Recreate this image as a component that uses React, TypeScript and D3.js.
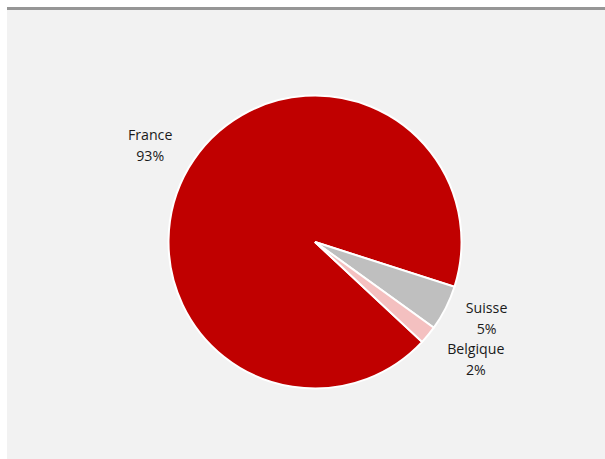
import React from "react";
import * as d3 from "d3";

const categories = ["France", "Suisse", "Belgique"];
const values = [93, 5, 2];
const labels = ["93%", "5%", "2%"];
const colors = ["#c00000", "#bfbfbf", "#f4c0c0"];

export default function App() {
  const W = 605, H = 459;
  const cx = 315, cy = 242, r = 146.5;
  const start = (133 * Math.PI) / 180;
  const pie = d3.pie<number>().sort(null).value((d) => d).startAngle(start).endAngle(start + 2 * Math.PI);
  const arcs = pie(values);
  const arc = d3.arc<d3.PieArcDatum<number>>().innerRadius(0).outerRadius(r);
  const labelArc = d3.arc<d3.PieArcDatum<number>>().innerRadius(190).outerRadius(190);
  const nudges = [[-1, -6], [2, -15], [14, -9]];
  return (
    <svg width={W} height={H} style={{ position: "absolute", left: 0, top: 0 }}>
      <rect x={7} y={7} width={W - 7} height={452} fill="#f2f2f2" />
      <rect x={7} y={7} width={W - 7} height={3} fill="#969696" />
      <g transform={`translate(${cx},${cy})`}>
        {arcs.map((a, i) => (
          <path key={i} d={arc(a) || ""} fill={colors[i]} stroke="#ffffff" strokeWidth={2} />
        ))}
        {arcs.map((a, i) => {
          const [x, y] = labelArc.centroid(a);
          const lx = x + nudges[i][0], ly = y + nudges[i][1];
          return (
            <text key={i} x={lx} y={ly} textAnchor="middle" fontFamily="Open Sans, sans-serif" fontSize={14.2} fill="#1a1a1a">
              <tspan x={lx} dy={0}>{categories[i]}</tspan>
              <tspan x={lx} dy={21}>{labels[i]}</tspan>
            </text>
          );
        })}
      </g>
    </svg>
  );
}
